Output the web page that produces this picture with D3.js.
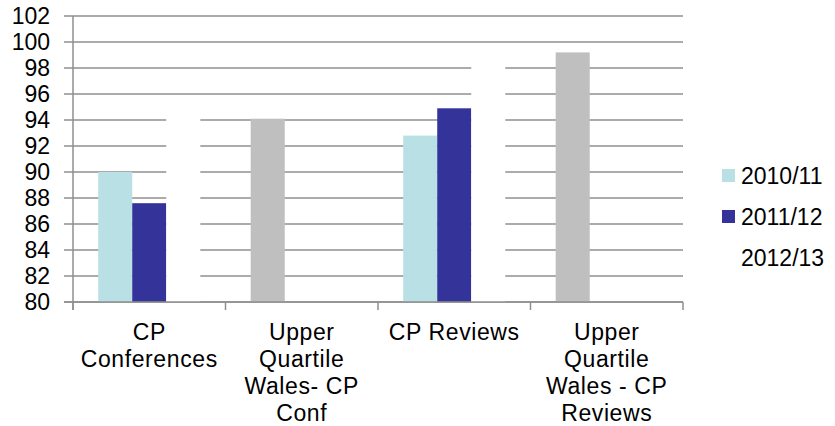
<!DOCTYPE html>
<html lang="en">
<head>
<meta charset="UTF-8">
<title>CP Conferences and Reviews</title>
<style>
  body { margin: 0; background: #fff; }
  text { font-family: "Liberation Sans", Arial, sans-serif; fill: #000; }
</style>
</head>
<body>
<script src="https://cdn.jsdelivr.net/npm/d3@7/dist/d3.min.js"></script>
<script>
// categories (one array of lines per x label)
var categories = ["CP Conferences", "Upper Quartile Wales- CP Conf", "CP Reviews", "Upper Quartile Wales - CP Reviews"];
var catLines = [["CP", "Conferences"], ["Upper", "Quartile", "Wales- CP", "Conf"], ["CP Reviews"], ["Upper", "Quartile", "Wales - CP", "Reviews"]];

var seriesNames = ["2010/11", "2011/12", "2012/13"];
var seriesColors = ["#b9e0e4", "#333399", "#ffffff"];
var v2010 = [90.0, 94.1, 92.8, 99.2];
var v2011 = [87.6, null, 94.9, null];
var v2012 = [95.0, null, 99.0, null];
// upper quartile points are drawn grey
var pointColors2010 = [null, "#bfbfbf", null, "#bfbfbf"];
var yTicks = [80, 82, 84, 86, 88, 90, 92, 94, 96, 98, 100, 102];

var allValues = [v2010, v2011, v2012];

var svg = d3.select("body").append("svg")
  .attr("width", 835)
  .attr("height", 426)

var plotLeft = 73, plotRight = 683, plotTop = 16, plotBottom = 302

var y = d3.scaleLinear().domain([80, 102]).range([plotBottom, plotTop])
var x0 = d3.scaleBand().domain(categories).range([plotLeft, plotRight])
var x1 = d3.scaleBand().domain(seriesNames).range([0, x0.bandwidth()]).paddingOuter(0.74)

//gridlines + y labels
svg.append("g").selectAll("line")
  .data(yTicks)
  .enter()
  .append("line")
  .attr("x1", plotLeft - 9)
  .attr("x2", plotRight)
  .attr("y1", function(d){return y(d)})
  .attr("y2", function(d){return y(d)})
  .attr("stroke", "#8f8f8f")
  .attr("stroke-width", 1.5)

svg.append("g").selectAll("text")
  .data(yTicks)
  .enter()
  .append("text")
  .attr("x", 50)
  .attr("y", function(d){return y(d) + 8})
  .attr("text-anchor", "end")
  .style("font-size", "23px")
  .text(function(d){return d})

//bars
var rows = [];
categories.forEach(function(c, i) {
  seriesNames.forEach(function(s, j) {
    var v = allValues[j][i]
    if (v === null) return
    var col = seriesColors[j]
    if (j === 0 && pointColors2010[i]) col = pointColors2010[i]
    rows.push({cat: c, series: s, value: v, color: col})
  })
})

svg.append("g").selectAll("rect")
  .data(rows)
  .enter()
  .append("rect")
  .attr("x", function(d){return x0(d.cat) + x1(d.series)})
  .attr("width", x1.bandwidth())
  .attr("y", function(d){return y(d.value)})
  .attr("height", function(d){return plotBottom - y(d.value)})
  .attr("fill", function(d){return d.color})

//axes lines
svg.append("line")
  .attr("x1", plotLeft).attr("x2", plotLeft)
  .attr("y1", plotTop).attr("y2", plotBottom + 8)
  .attr("stroke", "#8f8f8f").attr("stroke-width", 1.5)

svg.append("line")
  .attr("x1", plotLeft - 9).attr("x2", plotRight)
  .attr("y1", plotBottom).attr("y2", plotBottom)
  .attr("stroke", "#8f8f8f").attr("stroke-width", 1.5)

var tickX = categories.map(function(c){return x0(c)}).concat([plotRight])
svg.append("g").selectAll("line")
  .data(tickX)
  .enter()
  .append("line")
  .attr("x1", function(d){return d})
  .attr("x2", function(d){return d})
  .attr("y1", plotBottom)
  .attr("y2", plotBottom + 8)
  .attr("stroke", "#8f8f8f")
  .attr("stroke-width", 1.5)

//category labels
var catLabels = svg.append("g").selectAll("text")
  .data(categories)
  .enter()
  .append("text")
  .attr("text-anchor", "middle")
  .style("font-size", "23px")
  .style("letter-spacing", "0.6px")

catLabels.each(function(d, i) {
  var cx = x0(d) + x0.bandwidth() / 2
  d3.select(this).selectAll("tspan")
    .data(catLines[i])
    .enter()
    .append("tspan")
    .attr("x", cx)
    .attr("y", function(l, k){return 340 + k * 27})
    .text(function(l){return l})
})

//legend
var legend = svg.append("g").selectAll("g")
  .data(seriesNames)
  .enter()
  .append("g")
  .attr("transform", function(d, i){return "translate(722," + (176 + i * 41) + ")"})

legend.append("rect")
  .attr("x", 0).attr("y", -7)
  .attr("width", 13).attr("height", 13)
  .attr("fill", function(d, i){return seriesColors[i]})

legend.append("text")
  .attr("x", 19)
  .attr("y", 8)
  .style("font-size", "23px")
  .text(function(d){return d})
</script>
</body>
</html>
